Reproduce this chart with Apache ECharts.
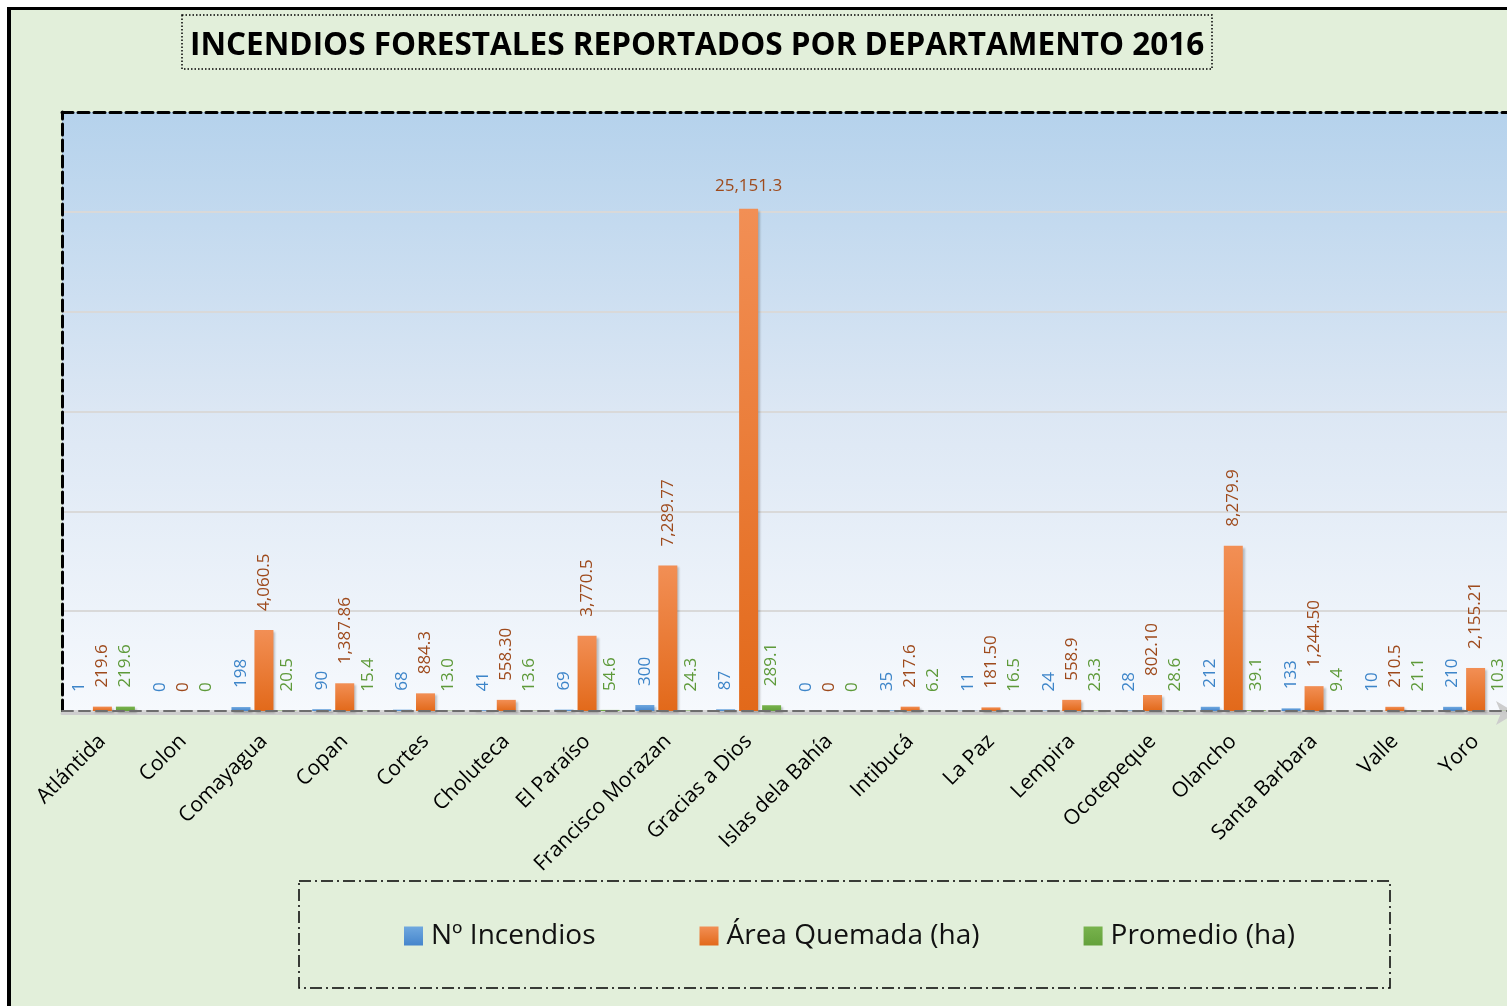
<!DOCTYPE html>
<html>
<head>
<meta charset="utf-8">
<title>Incendios forestales reportados por departamento 2016</title>
<script src="https://cdn.jsdelivr.net/npm/echarts@6/dist/echarts.min.js"></script>
<style>
  html, body { margin: 0; padding: 0; background: #ffffff; overflow: hidden; }
  #frame {
    position: absolute; left: 7px; top: 7px; width: 1600px; height: 1100px;
    border-left: 4px solid #000; border-top: 3px solid #000;
    background: #E2EFDA;
  }
  /* the chart continues slightly past the right edge of the window */
  #chart { position: absolute; left: 0; top: 0; width: 1530px; height: 1006px; }
</style>
</head>
<body>
<div id="frame"></div>
<div id="chart"></div>
<script>
// Departamentos de Honduras
const departamentos = ['Atlántida', 'Colon', 'Comayagua', 'Copan', 'Cortes', 'Choluteca', 'El Paraíso',
  'Francisco Morazan', 'Gracias a Dios', 'Islas dela Bahía', 'Intibucá', 'La Paz', 'Lempira',
  'Ocotepeque', 'Olancho', 'Santa Barbara', 'Valle', 'Yoro'];

// Número de incendios
const numIncendios = [1, 0, 198, 90, 68, 41, 69, 300, 87, 0, 35, 11, 24, 28, 212, 133, 10, 210];

// Área quemada (ha) y decimales con que se reporta cada cifra
const areaQuemada = [219.6, 0, 4060.5, 1387.86, 884.3, 558.30, 3770.5, 7289.77, 25151.3, 0,
  217.6, 181.50, 558.9, 802.10, 8279.9, 1244.50, 210.5, 2155.21];
const areaDecimales = [1, 0, 1, 2, 1, 2, 1, 2, 1, 0, 1, 2, 1, 2, 1, 2, 1, 2];

// Promedio (ha) por incendio
const promedio = [219.6, 0, 20.5, 15.4, 13.0, 13.6, 54.6, 24.3, 289.1, 0, 6.2, 16.5, 23.3, 28.6, 39.1, 9.4, 21.1, 10.3];

const yMax = 30000;
const yInterval = 5000;

const FONT = '"Open Sans", "Noto Sans", sans-serif';

function fmt(v, dec) {
  if (v === 0) return '0';
  return v.toLocaleString('en-US', { minimumFractionDigits: dec, maximumFractionDigits: dec });
}

function vGrad(top, bottom) {
  return new echarts.graphic.LinearGradient(0, 0, 0, 1, [
    { offset: 0, color: top }, { offset: 1, color: bottom }
  ]);
}

const barShadow = { shadowColor: 'rgba(0,0,0,0.22)', shadowBlur: 2, shadowOffsetX: 2, shadowOffsetY: 2 };

function rotatedLabel(color, formatter) {
  return {
    show: true, position: 'top', rotate: 90, align: 'left', verticalAlign: 'middle',
    distance: 19, color: color, fontFamily: FONT, fontSize: 17, formatter: formatter
  };
}

// Etiquetas que no caben verticalmente se escriben en horizontal sobre la barra
const areaData = areaQuemada.map(function (v) {
  if (v > yMax * 0.75) {
    return { value: v, label: { rotate: 0, align: 'center', verticalAlign: 'bottom', distance: 14 } };
  }
  return v;
});

const chart = echarts.init(document.getElementById('chart'), null, { renderer: 'canvas' });

chart.setOption({
  backgroundColor: 'transparent',
  animation: false,
  title: {
    text: 'INCENDIOS FORESTALES REPORTADOS POR DEPARTAMENTO 2016',
    left: 190, top: 28, padding: 0,
    textStyle: { fontFamily: FONT, fontWeight: 'bold', fontSize: 31.5, color: '#000', lineHeight: 36 }
  },
  graphic: [
    {
      type: 'rect', silent: true,
      shape: { x: 182, y: 15, width: 1030, height: 54 },
      style: { fill: 'none', stroke: '#000', lineWidth: 1.5, lineDash: [1.5, 2] }
    },
    {
      type: 'rect', silent: true,
      shape: { x: 299, y: 881, width: 1091, height: 107 },
      style: { fill: 'none', stroke: '#000', lineWidth: 1.5, lineDash: [12, 4, 2, 4] }
    }
  ],
  legend: {
    left: 404, top: 922, padding: 0,
    itemWidth: 19, itemHeight: 19, itemGap: 104,
    icon: 'rect',
    textStyle: { fontFamily: FONT, fontSize: 28, color: '#111', padding: [0, 0, 0, 3] },
    data: ['Nº Incendios', 'Área Quemada (ha)', 'Promedio (ha)']
  },
  grid: {
    left: 62, top: 112, width: 1454, height: 599,
    show: true, borderWidth: 0,
    backgroundColor: new echarts.graphic.LinearGradient(0, 0, 0, 1, [
      { offset: 0, color: '#B5D2EC' },
      { offset: 0.5, color: '#DCE7F4' },
      { offset: 1, color: '#F6F9FD' }
    ])
  },
  xAxis: [
    {
      type: 'category', data: departamentos, position: 'bottom',
      axisTick: { show: false },
      axisLine: { show: true, lineStyle: { color: '#6E6E6E', width: 2, type: [11, 6] } },
      axisLabel: {
        interval: 0, rotate: 45, margin: 27,
        fontFamily: FONT, fontSize: 21, color: '#000'
      },
      z: 3
    },
    {
      type: 'category', data: departamentos, position: 'top',
      axisTick: { show: false }, axisLabel: { show: false },
      axisLine: { show: true, lineStyle: { color: '#000', width: 3, type: [11, 5] } }
    },
    {
      type: 'category', data: departamentos, position: 'bottom', offset: 2,
      axisTick: { show: false }, axisLabel: { show: false },
      axisLine: {
        show: true, symbol: ['none', 'arrow'], symbolSize: [18, 20],
        lineStyle: { color: '#CDCDCD', width: 3 }
      },
      z: 1
    }
  ],
  yAxis: {
    type: 'value', min: 0, max: yMax, interval: yInterval,
    axisLabel: { show: false }, axisTick: { show: false },
    axisLine: { show: true, lineStyle: { color: '#000', width: 3, type: [11, 5] } },
    splitLine: { show: true, showMaxLine: false, lineStyle: { color: '#D9D9D9', width: 2 } }
  },
  series: [
    {
      name: 'Nº Incendios', type: 'bar', xAxisIndex: 0,
      barWidth: 19, barGap: '21%',
      data: numIncendios,
      itemStyle: Object.assign({ color: vGrad('#6FA8DF', '#4585CC') }, barShadow),
      label: rotatedLabel('#3D85C9', function (p) { return fmt(p.value, 0); })
    },
    {
      name: 'Área Quemada (ha)', type: 'bar', xAxisIndex: 0,
      barWidth: 19, barGap: '21%',
      data: areaData,
      itemStyle: Object.assign({ color: vGrad('#F28F55', '#E2691A') }, barShadow),
      label: rotatedLabel('#9E4A1C', function (p) { return fmt(p.value, areaDecimales[p.dataIndex]); })
    },
    {
      name: 'Promedio (ha)', type: 'bar', xAxisIndex: 0,
      barWidth: 19, barGap: '21%',
      data: promedio,
      itemStyle: Object.assign({ color: vGrad('#78B34D', '#64A13B') }, barShadow),
      label: rotatedLabel('#5E9A3A', function (p) { return fmt(p.value, 1); })
    }
  ]
});
</script>
</body>
</html>
